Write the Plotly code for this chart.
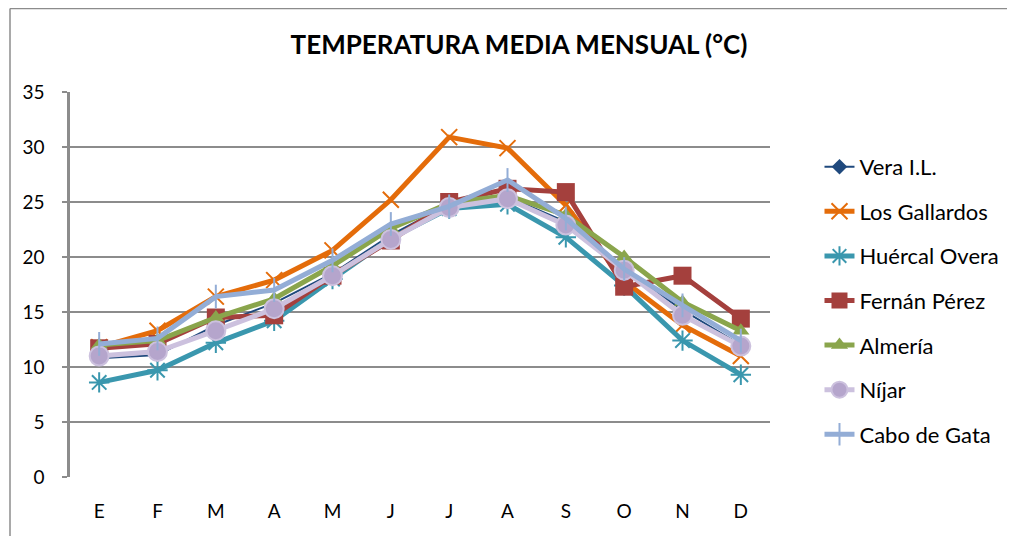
import plotly.graph_objects as go

months = ["E", "F", "M", "A", "M", "J", "J", "A", "S", "O", "N", "D"]
vera = [10.8, 11.1, 13.8, 15.8, 18.5, 22.0, 24.8, 25.5, 23.2, 18.8, 15.2, 12.0]
los_gallardos = [11.8, 13.3, 16.4, 17.9, 20.6, 25.2, 30.9, 29.9, 24.7, 17.8, 13.8, 11.0]
huercal_overa = [8.6, 9.7, 12.2, 14.2, 18.0, 21.7, 24.4, 24.8, 21.8, 17.4, 12.4, 9.3]
fernan_perez = [11.7, 12.1, 14.5, 14.7, 18.3, 21.5, 25.0, 26.2, 25.9, 17.3, 18.3, 14.4]
almeria = [12.0, 12.4, 14.5, 16.2, 19.2, 22.6, 24.9, 25.6, 23.8, 20.0, 15.9, 13.3]
nijar = [11.0, 11.4, 13.3, 15.3, 18.3, 21.6, 24.5, 25.3, 22.9, 18.8, 14.7, 11.9]
cabo_de_gata = [12.1, 12.6, 16.4, 17.0, 19.7, 23.0, 24.6, 27.0, 23.5, 18.9, 15.6, 12.4]

x = list(range(len(months)))
FONT = "Lato"

series = [
    ("Vera I.L.", vera, dict(color="#1F497D", width=2),
     dict(symbol="diamond", size=12, color="#1F497D")),
    ("Los Gallardos", los_gallardos, dict(color="#E46C0A", width=5),
     dict(symbol="x-thin-open", size=16, line=dict(color="#E46C0A", width=2))),
    ("Huércal Overa", huercal_overa, dict(color="#3A97AE", width=5),
     dict(symbol="asterisk-open", size=17, line=dict(color="#3A97AE", width=2))),
    ("Fernán Pérez", fernan_perez, dict(color="#A4403D", width=5),
     dict(symbol="square", size=18, color="#A4403D")),
    ("Almería", almeria, dict(color="#8AA54C", width=5),
     dict(symbol="triangle-up", size=15, color="#8AA54C")),
    ("Níjar", nijar, dict(color="#CCC1DE", width=5),
     dict(symbol="circle", size=19, color="#B5A5CC", line=dict(color="#CCC1DE", width=2))),
    ("Cabo de Gata", cabo_de_gata, dict(color="#93ADD6", width=5),
     dict(symbol="line-ns-open", size=17, line=dict(color="#93ADD6", width=2))),
]

fig = go.Figure()
for i, (name, vals, line, marker) in enumerate(series):
    fig.add_trace(go.Scatter(
        x=x, y=vals, name=name, mode="lines+markers",
        line=line, marker=marker, legendgroup=f"g{i}",
    ))

fig.update_layout(
    width=1015, height=536,
    margin=dict(l=62, r=253, t=84, b=67),
    paper_bgcolor="white", plot_bgcolor="white",
    font=dict(family=FONT, size=19, color="#000000"),
    title=dict(text="<b>TEMPERATURA MEDIA MENSUAL (°C)</b>",
               font=dict(family=FONT, size=26, color="#000000"),
               x=0.6414, xanchor="center", xref="paper",
               y=1 - 37 / 536, yref="container", yanchor="middle"),
    showlegend=True,
    legend=dict(x=1.0707, xanchor="left", y=0.860, yanchor="top",
                traceorder="grouped", tracegroupgap=13,
                font=dict(family=FONT, size=22, color="#000000"),
                bgcolor="rgba(0,0,0,0)", itemwidth=30),
    xaxis=dict(range=[-0.5, 11.5], tickmode="array", tickvals=x, ticktext=months,
               showgrid=False, zeroline=False, showline=False, ticks="",
               ticklabelstandoff=21, tickfont=dict(family=FONT, size=19, color="#000000"),
               fixedrange=True),
    yaxis=dict(range=[0, 35], dtick=5, showgrid=True, gridcolor="#8C8C8C", gridwidth=2,
               zeroline=False, showline=True, linecolor="#8C8C8C", linewidth=2.5,
               ticks="outside", ticklen=5, tickcolor="#8C8C8C", tickwidth=2,
               ticklabelstandoff=14, tickfont=dict(family=FONT, size=19, color="#000000"),
               fixedrange=True),
    shapes=[
        dict(type="line", xref="paper", yref="paper",
             x0=(2 - 62) / 700, x1=(2 - 62) / 700, y0=-0.3, y1=1 + 83.5 / 385,
             line=dict(color="#8C8C8C", width=1.5)),
        dict(type="line", xref="paper", yref="paper",
             x0=(2 - 62) / 700, x1=1.5, y0=1 + 83.5 / 385, y1=1 + 83.5 / 385,
             line=dict(color="#8C8C8C", width=1.5)),
    ],
)

fig.write_html("out.html")
